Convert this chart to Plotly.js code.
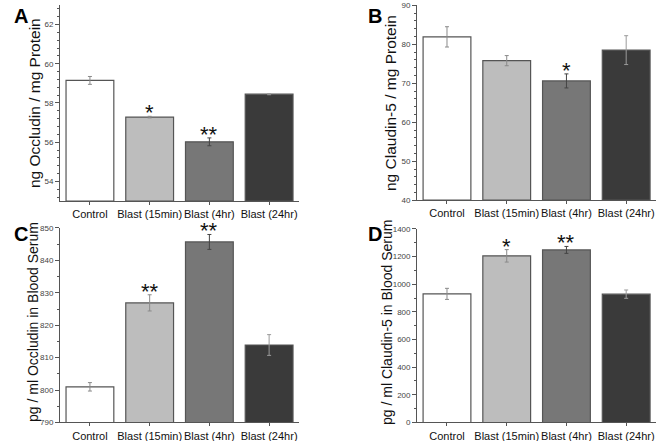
<!DOCTYPE html>
<html>
<head>
<meta charset="utf-8">
<script src="https://cdn.plot.ly/plotly-3.0.1.min.js"></script>
<style>
  html, body { margin: 0; padding: 0; background: #fff; }
  #chart { width: 660px; height: 441px; }
</style>
</head>
<body>
<div id="chart"></div>
<script>
// groups shared by all four panels
const categories = ['Control', 'Blast (15min)', 'Blast (4hr)', 'Blast (24hr)'];

// A: occludin in brain tissue
const occTissue = [59.15, 57.28, 56.02, 58.45];
const occTissueErr = [0.2, 0.04, 0.2, 0.03];
const occTissueStars = ['', '*', '**', ''];

// B: claudin-5 in brain tissue
const cldTissue = [81.9, 75.8, 70.6, 78.5];
const cldTissueErr = [2.6, 1.3, 1.8, 3.7];
const cldTissueStars = ['', '', '*', ''];

// C: occludin in serum
const occSerum = [801.0, 826.9, 845.7, 813.9];
const occSerumErr = [1.3, 2.5, 2.3, 3.2];
const occSerumStars = ['', '**', '**', ''];

// D: claudin-5 in serum
const cldSerum = [930, 1205, 1248, 928];
const cldSerumErr = [40, 45, 25, 30];
const cldSerumStars = ['', '*', '**', ''];

const barColors = ['#ffffff', '#bdbdbd', '#777777', '#3a3a3a'];
const errColors = ['#8a8a8a', '#8a8a8a', '#444444', '#9a9a9a'];

const panels = [
    { vals: occTissue, err: occTissueErr, stars: occTissueStars, ax: '', label: 'A',
      title: 'ng Occludin / mg Protein', range: [53, 63], dtick: 2, minor: 0.4,
      xdom: [0.091, 0.453], ydom: [0.544, 0.989], lx: 12, ly: 16, tx: 35, ty: 103, ts: 15.5 },
    { vals: cldTissue, err: cldTissueErr, stars: cldTissueStars, ax: '2', label: 'B',
      title: 'ng Claudin-5 / mg Protein', range: [40, 90], dtick: 10, minor: 2,
      xdom: [0.632, 0.994], ydom: [0.546, 0.988], lx: 366, ly: 16, tx: 391, ty: 103, ts: 15.5 },
    { vals: occSerum, err: occSerumErr, stars: occSerumStars, ax: '3', label: 'C',
      title: 'pg / ml Occludin in Blood Serum', range: [790, 850], dtick: 10, minor: 5,
      xdom: [0.091, 0.453], ydom: [0.042, 0.483], lx: 12, ly: 234, tx: 33, ty: 322, ts: 14 },
    { vals: cldSerum, err: cldSerumErr, stars: cldSerumStars, ax: '4', label: 'D',
      title: 'pg / ml Claudin-5 in Blood Serum', range: [0, 1400], dtick: 200, minor: 100,
      xdom: [0.632, 0.994], ydom: [0.042, 0.481], lx: 366, ly: 234, tx: 387, ty: 322, ts: 14 },
];

const data = [];
const annotations = [];
const layout = {
    width: 660, height: 441,
    margin: { l: 0, r: 0, t: 0, b: 0, pad: 0 },
    paper_bgcolor: '#ffffff',
    plot_bgcolor: '#ffffff',
    showlegend: false,
    barmode: 'overlay',
    font: { family: 'Liberation Sans, Arial, sans-serif', color: '#000' },
};

panels.forEach((p) => {
    const xa = 'x' + p.ax, ya = 'y' + p.ax;
    for (let i = 0; i < categories.length; ++i) {
        // bars are drawn up from the bottom of the axis
        data.push({
            type: 'bar',
            x: [categories[i]],
            y: [p.vals[i] - p.range[0]],
            base: p.range[0],
            width: 0.8,
            xaxis: xa, yaxis: ya,
            marker: { color: barColors[i], line: { color: '#555555', width: 1.2 } },
            error_y: { type: 'data', array: [p.err[i]], visible: true,
                       color: errColors[i], thickness: 1, width: 2 },
            hoverinfo: 'skip',
        });
        if (p.stars[i]) {
            annotations.push({
                xref: xa, yref: ya,
                x: categories[i], y: p.vals[i] + p.err[i],
                text: p.stars[i], showarrow: false,
                yanchor: 'bottom', yshift: -11,
                font: { size: 22, family: 'Liberation Sans, Arial, sans-serif', color: '#111' },
            });
        }
    }
    // panel letter
    annotations.push({
        xref: 'paper', yref: 'paper',
        x: p.lx / 660, y: 1 - p.ly / 441,
        xanchor: 'left', yanchor: 'middle',
        text: '<b>' + p.label + '</b>', showarrow: false,
        font: { size: 20, family: 'Liberation Sans, Arial, sans-serif', color: '#000' },
    });
    // y axis title
    annotations.push({
        xref: 'paper', yref: 'paper',
        x: p.tx / 660, y: 1 - p.ty / 441,
        xanchor: 'center', yanchor: 'middle', textangle: -90,
        text: p.title, showarrow: false,
        font: { size: p.ts, family: 'Liberation Sans, Arial, sans-serif', color: '#111' },
    });
    layout['xaxis' + p.ax] = {
        domain: p.xdom, anchor: ya,
        type: 'category', categoryorder: 'array', categoryarray: categories,
        range: [-0.5, 3.5],
        showline: true, linecolor: '#555555', linewidth: 1,
        ticks: 'outside', ticklen: 3, tickcolor: '#555555',
        tickangle: 0,
        tickfont: { size: 11, color: '#111' },
        showgrid: false, zeroline: false, fixedrange: true,
    };
    layout['yaxis' + p.ax] = {
        domain: p.ydom, anchor: xa,
        range: p.range, tick0: 0, dtick: p.dtick,
        showline: true, linecolor: '#555555', linewidth: 1,
        ticks: 'outside', ticklen: 4, tickcolor: '#555555',
        minor: { ticks: 'outside', ticklen: 2, dtick: p.minor, tickcolor: '#555555', showgrid: false },
        tickfont: { size: 8, color: '#444' },
        showgrid: false, zeroline: false, fixedrange: true,
    };
});

layout.annotations = annotations;

Plotly.newPlot('chart', data, layout, { staticPlot: true, displayModeBar: false });
</script>
</body>
</html>
